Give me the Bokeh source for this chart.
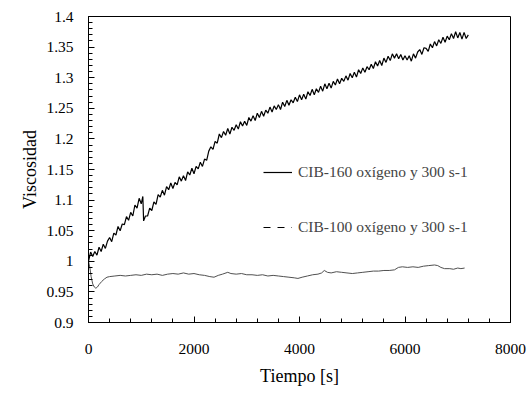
from bokeh.plotting import figure
from bokeh.models import Range1d, FixedTicker, Legend, LegendItem, Title
from bokeh.embed import file_html
from bokeh.resources import INLINE

# CIB-160 oxígeno y 300 s-1 (black, noisy)
t160 = [0, 40, 80, 120, 160, 200, 240, 280, 320, 360, 400, 440, 480, 520, 560, 600, 640, 680,
        720, 760, 800, 840, 880, 920, 960, 1000, 1030, 1045, 1080, 1120, 1160, 1200, 1240, 1280,
        1320, 1360, 1400, 1440, 1480, 1520, 1560, 1600, 1640, 1680, 1720, 1760, 1800, 1840,
        1880, 1920, 1960, 2000, 2040, 2080, 2120, 2160, 2200, 2240, 2280, 2320, 2360, 2400,
        2440, 2480, 2520, 2560, 2600, 2640, 2680, 2720, 2760, 2800, 2840, 2880, 2920, 2960,
        3000, 3040, 3080, 3120, 3160, 3200, 3240, 3280, 3320, 3360, 3400, 3440, 3480, 3520,
        3560, 3600, 3640, 3680, 3720, 3760, 3800, 3840, 3880, 3920, 3960, 4000, 4040, 4080,
        4120, 4160, 4200, 4240, 4280, 4320, 4360, 4400, 4440, 4480, 4520, 4560, 4600, 4640,
        4680, 4720, 4760, 4800, 4840, 4880, 4920, 4960, 5000, 5040, 5080, 5120, 5160, 5200,
        5240, 5280, 5320, 5360, 5400, 5440, 5480, 5520, 5560, 5600, 5640, 5680, 5720, 5760,
        5800, 5840, 5880, 5920, 5960, 6000, 6040, 6080, 6120, 6160, 6200, 6240, 6280, 6320,
        6360, 6400, 6440, 6480, 6520, 6560, 6600, 6640, 6680, 6720, 6760, 6800, 6840, 6880,
        6920, 6960, 7000, 7040, 7080, 7120, 7160, 7200]
v160 = [1.000, 1.015, 1.008, 1.016, 1.010, 1.023, 1.016, 1.028, 1.021, 1.033, 1.039, 1.032,
        1.046, 1.043, 1.057, 1.050, 1.061, 1.060, 1.073, 1.067, 1.080, 1.074, 1.092, 1.087,
        1.103, 1.094, 1.106, 1.066, 1.074, 1.074, 1.087, 1.083, 1.097, 1.093, 1.109, 1.105,
        1.116, 1.108, 1.122, 1.117, 1.128, 1.119, 1.129, 1.125, 1.138, 1.131, 1.140, 1.132,
        1.146, 1.141, 1.152, 1.143, 1.155, 1.151, 1.162, 1.155, 1.167, 1.165, 1.180, 1.187,
        1.183, 1.196, 1.193, 1.208, 1.202, 1.212, 1.206, 1.217, 1.208, 1.219, 1.214, 1.223,
        1.216, 1.228, 1.221, 1.229, 1.222, 1.235, 1.229, 1.238, 1.230, 1.242, 1.235, 1.245,
        1.237, 1.247, 1.242, 1.252, 1.244, 1.254, 1.248, 1.256, 1.248, 1.260, 1.253, 1.263,
        1.255, 1.264, 1.259, 1.268, 1.261, 1.272, 1.264, 1.273, 1.265, 1.277, 1.271, 1.281,
        1.272, 1.282, 1.276, 1.286, 1.278, 1.290, 1.282, 1.291, 1.283, 1.294, 1.288, 1.298,
        1.290, 1.299, 1.294, 1.303, 1.296, 1.307, 1.300, 1.309, 1.301, 1.313, 1.307, 1.316,
        1.309, 1.318, 1.313, 1.322, 1.315, 1.326, 1.319, 1.328, 1.320, 1.332, 1.325, 1.335,
        1.328, 1.339, 1.332, 1.339, 1.331, 1.338, 1.329, 1.336, 1.329, 1.336, 1.327, 1.339,
        1.332, 1.342, 1.346, 1.338, 1.349, 1.348, 1.343, 1.355, 1.349, 1.359, 1.352, 1.362,
        1.356, 1.366, 1.358, 1.368, 1.362, 1.372, 1.364, 1.375, 1.365, 1.374, 1.363, 1.374,
        1.364, 1.370]

# CIB-100 oxígeno y 300 s-1 (grey)
t100 = [0, 25, 50, 80, 110, 140, 170, 200, 250, 300, 350, 400, 500, 600, 700, 800, 900, 1000,
        1100, 1200, 1300, 1400, 1500, 1600, 1700, 1800, 1900, 2000, 2100, 2200, 2300, 2380,
        2460, 2540, 2640, 2700, 2800, 2900, 3000, 3100, 3200, 3300, 3400, 3500, 3600, 3700,
        3800, 3900, 3970, 4050, 4150, 4250, 4350, 4420, 4470, 4530, 4600, 4700, 4800, 4900,
        5000, 5100, 5200, 5300, 5400, 5500, 5600, 5700, 5800, 5875, 5950, 6050, 6150, 6250,
        6350, 6450, 6560, 6620, 6680, 6750, 6850, 6920, 7000, 7060, 7130]
v100 = [1.000, 0.990, 0.975, 0.963, 0.958, 0.956, 0.958, 0.962, 0.967, 0.971, 0.974, 0.975,
        0.976, 0.977, 0.976, 0.977, 0.978, 0.977, 0.979, 0.978, 0.979, 0.977, 0.979, 0.980,
        0.979, 0.981, 0.979, 0.980, 0.978, 0.977, 0.975, 0.974, 0.977, 0.979, 0.982, 0.980,
        0.979, 0.980, 0.978, 0.978, 0.977, 0.978, 0.976, 0.977, 0.976, 0.975, 0.974, 0.973,
        0.972, 0.974, 0.976, 0.978, 0.979, 0.981, 0.985, 0.982, 0.981, 0.983, 0.982, 0.981,
        0.980, 0.981, 0.982, 0.983, 0.984, 0.984, 0.985, 0.985, 0.986, 0.990, 0.991, 0.990,
        0.991, 0.990, 0.992, 0.993, 0.994, 0.993, 0.990, 0.988, 0.988, 0.987, 0.989, 0.988,
        0.989]

x_ticks = [0, 2000, 4000, 6000, 8000]
x_labels = ["0", "2000", "4000", "6000", "8000"]
y_ticks = [0.9, 0.95, 1.0, 1.05, 1.1, 1.15, 1.2, 1.25, 1.3, 1.35, 1.4]
y_labels = ["0.9", "0.95", "1", "1.05", "1.1", "1.15", "1.2", "1.25", "1.3", "1.35", "1.4"]
x_title = "Tiempo [s]"
y_title = "Viscosidad"
legend_labels = ["CIB-160 oxígeno y 300 s-1", "CIB-100 oxígeno y 300 s-1"]
nan = float("nan")

FONT = "Liberation Serif"
TICK_FONT = "serif"

p = figure(width=530, height=396, output_backend="svg", toolbar_location=None,
           x_range=Range1d(0, 8000), y_range=Range1d(0.9, 1.4),
           min_border_left=88, min_border_right=20, min_border_top=16, min_border_bottom=74)
p.background_fill_color = "white"
p.border_fill_color = "white"
p.outline_line_color = "black"
p.outline_line_width = 1
p.grid.visible = False

r100 = p.line(t100, v100, line_color="#505050", line_width=1)
r160 = p.line(t160, v160, line_color="black", line_width=1.2)
rdash = p.line([nan, nan], [nan, nan], line_color="black", line_width=1, line_dash="7 7")

x_minor = list(range(0, 8001, 400))
y_minor = [round(0.9 + 0.01 * i, 2) for i in range(51)]
p.xaxis.ticker = FixedTicker(ticks=x_ticks, minor_ticks=x_minor)
p.yaxis.ticker = FixedTicker(ticks=y_ticks, minor_ticks=y_minor)
p.xaxis.major_label_overrides = {t: l for t, l in zip(x_ticks, x_labels)}
p.yaxis.major_label_overrides = {t: l for t, l in zip(y_ticks, y_labels)}

for ax in (p.xaxis, p.yaxis):
    ax.major_tick_out = 0
    ax.major_tick_in = 6
    ax.minor_tick_out = 0
    ax.minor_tick_in = 4
    ax.axis_line_color = "black"
    ax.major_tick_line_color = "black"
    ax.minor_tick_line_color = "black"
    ax.major_label_text_font = TICK_FONT
    ax.major_label_text_font_size = "15.5px"
    ax.major_label_text_color = "black"
p.xaxis.major_label_standoff = 21
p.yaxis.major_label_standoff = 15

p.add_layout(Title(text=x_title, align="center", text_font=FONT, text_font_size="18px",
                   text_font_style="normal", text_color="black", standoff=14, offset=0), "below")
p.add_layout(Title(text=y_title, align="center", text_font=FONT, text_font_size="18px",
                   text_font_style="normal", text_color="black", standoff=8, offset=0), "left")

legend = Legend(items=[LegendItem(label=legend_labels[0], renderers=[r160]),
                       LegendItem(label=legend_labels[1], renderers=[rdash])],
                location=(175, 85), orientation="vertical",
                glyph_width=29, glyph_height=20, label_height=20, spacing=35,
                padding=0, margin=0, label_standoff=6,
                label_text_font=FONT, label_text_font_size="15.5px",
                border_line_color=None, background_fill_alpha=0)
p.add_layout(legend, "center")

open("out.html", "w").write(file_html(p, INLINE))
